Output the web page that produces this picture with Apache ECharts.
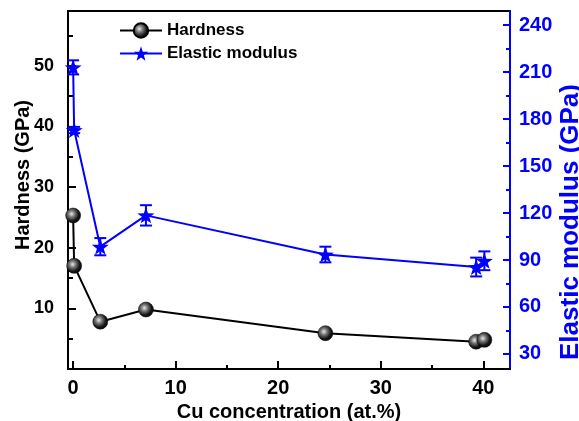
<!DOCTYPE html>
<html>
<head>
<meta charset="utf-8">
<script src="https://cdn.jsdelivr.net/npm/echarts@6/dist/echarts.min.js"></script>
<style>
html,body{margin:0;padding:0;background:#fff;}
#chart{width:579px;height:421px;}
</style>
</head>
<body>
<div id="chart"></div>
<script>
// Data
const cuX        = [0, 0.1, 2.65, 7.1, 24.6, 39.3, 40.1];
const hardness   = [25.3, 17.0, 7.8, 9.8, 5.9, 4.5, 4.8];
const elastic    = [213, 173, 98.5, 118.5, 93.5, 85.5, 89.5];
const elasticErr = [4.5, 2, 5.5, 6.5, 5, 6, 6];

// Tick labels
const xMajor = [0, 10, 20, 30, 40];
const xMinor = [5, 15, 25, 35];
const hMajor = [10, 20, 30, 40, 50];
const hMinor = [5, 15, 25, 35, 45, 55];
const eMajor = [30, 60, 90, 120, 150, 180, 210, 240];
const eMinor = [45, 75, 105, 135, 165, 195, 225];

const FONT = '"Liberation Sans", Arial, sans-serif';
const BLUE = '#0000ff';
const STAR = 'path://M0,-10 L2.35,-3.24 9.51,-3.09 3.8,1.24 5.88,8.09 0,4 -5.88,8.09 -3.8,1.24 -9.51,-3.09 -2.35,-3.24Z';
const BALL = {
  type: 'radial', x: 0.4, y: 0.4, r: 0.7,
  colorStops: [
    {offset: 0, color: '#e8e8e8'},
    {offset: 0.3, color: '#777'},
    {offset: 0.65, color: '#151515'},
    {offset: 1, color: '#000'}
  ]
};

const X_MIN = -0.5, X_MAX = 42.6;
const H_MIN = 0, H_MAX = 59;
const E_MIN = 20.4, E_MAX = 249;

const chart = echarts.init(document.getElementById('chart'), null, {renderer: 'canvas'});

function xAxisBase(ticks, len, labels) {
  return {
    type: 'value', min: X_MIN, max: X_MAX, position: 'bottom',
    axisLine: {show: !!labels, onZero: false, lineStyle: {color: '#000', width: 2}},
    axisTick: {show: true, inside: true, length: len, customValues: ticks, lineStyle: {color: '#000', width: 2}},
    axisLabel: labels ? {customValues: labels, color: '#000', fontFamily: FONT, fontWeight: 'bold', fontSize: 20, margin: 9} : {show: false},
    splitLine: {show: false}
  };
}
function yAxisBase(min, max, pos, color, ticks, len, labels, margin, fs) {
  return {
    type: 'value', min: min, max: max, position: pos,
    axisLine: {show: !!labels, onZero: false, lineStyle: {color: color, width: 2}},
    axisTick: {show: true, inside: true, length: len, customValues: ticks, lineStyle: {color: color, width: 2}},
    axisLabel: labels ? {customValues: labels, color: color, fontFamily: FONT, fontWeight: 'bold', fontSize: fs, margin: margin} : {show: false},
    splitLine: {show: false}
  };
}

const xMain = xAxisBase(xMajor, 8, xMajor);
xMain.name = 'Cu concentration (at.%)';
xMain.nameLocation = 'middle';
xMain.nameGap = 30;
xMain.nameTextStyle = {color: '#000', fontFamily: FONT, fontWeight: 'bold', fontSize: 20};

const hMain = yAxisBase(H_MIN, H_MAX, 'left', '#000', hMajor, 8, hMajor, 14, 18);
hMain.name = 'Hardness (GPa)';
hMain.nameLocation = 'middle';
hMain.nameGap = 35;
hMain.nameMoveOverlap = false;
hMain.nameTextStyle = {color: '#000', fontFamily: FONT, fontWeight: 'bold', fontSize: 20, padding: [0, 0, 0, 30]};

const eMain = yAxisBase(E_MIN, E_MAX, 'right', BLUE, eMajor, 7, eMajor, 9, 20);
eMain.name = 'Elastic modulus (GPa)';
eMain.nameLocation = 'middle';
eMain.nameGap = 48;
eMain.nameMoveOverlap = false;
eMain.nameTextStyle = {color: BLUE, fontFamily: FONT, fontWeight: 'bold', fontSize: 26, padding: [0, 64, 0, 0]};

const option = {
  backgroundColor: '#fff',
  animation: false,
  grid: {left: 68, right: 69, top: 11, bottom: 52, show: true, borderColor: '#000', borderWidth: 2,
         containLabel: false, outerBoundsMode: 'none'},
  legend: {
    data: ['Hardness', 'Elastic modulus'],
    orient: 'vertical', left: 119, top: 22, padding: 0,
    itemWidth: 42, itemHeight: 18, itemGap: 6,
    textStyle: {color: '#000', fontFamily: FONT, fontWeight: 'bold', fontSize: 17}
  },
  xAxis: [xMain, xAxisBase(xMinor, 4, null)],
  yAxis: [
    hMain,
    yAxisBase(H_MIN, H_MAX, 'left', '#000', hMinor, 5, null),
    eMain,
    yAxisBase(E_MIN, E_MAX, 'right', BLUE, eMinor, 4, null)
  ],
  series: [
    {
      name: 'Elastic modulus error', type: 'custom', xAxisIndex: 0, yAxisIndex: 2, z: 3,
      data: cuX.map((x, i) => [x, elastic[i] - elasticErr[i], elastic[i] + elasticErr[i]]),
      encode: {x: 0, y: [1, 2]},
      renderItem: function (params, api) {
        const x = api.value(0);
        const lo = api.coord([x, api.value(1)]);
        const hi = api.coord([x, api.value(2)]);
        const h = 6;
        const st = {stroke: BLUE, lineWidth: 2};
        return {
          type: 'group',
          children: [
            {type: 'line', shape: {x1: lo[0], y1: lo[1], x2: hi[0], y2: hi[1]}, style: st},
            {type: 'line', shape: {x1: lo[0] - h, y1: lo[1], x2: lo[0] + h, y2: lo[1]}, style: st},
            {type: 'line', shape: {x1: hi[0] - h, y1: hi[1], x2: hi[0] + h, y2: hi[1]}, style: st}
          ]
        };
      }
    },
    {
      name: 'Elastic modulus', type: 'line', xAxisIndex: 0, yAxisIndex: 2, z: 4,
      data: cuX.map((x, i) => [x, elastic[i]]),
      symbol: STAR, symbolSize: [17, 16],
      lineStyle: {color: BLUE, width: 2},
      itemStyle: {color: BLUE, borderWidth: 0}
    },
    {
      name: 'Hardness', type: 'line', xAxisIndex: 0, yAxisIndex: 0, z: 5,
      data: cuX.map((x, i) => [x, hardness[i]]),
      symbol: 'circle', symbolSize: 15,
      lineStyle: {color: '#000', width: 2},
      itemStyle: {color: BALL, borderColor: '#000', borderWidth: 0.5}
    }
  ]
};
chart.setOption(option);
</script>
</body>
</html>
